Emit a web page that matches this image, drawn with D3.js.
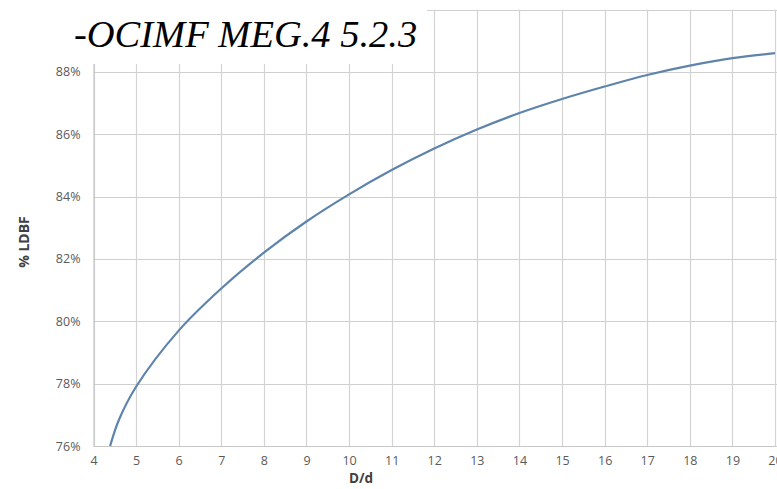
<!DOCTYPE html>
<html>
<head>
<meta charset="utf-8">
<script src="https://cdn.jsdelivr.net/npm/d3@7"></script>
<style>
  body { margin: 0; background: #fff; }
  svg { display: block; }
</style>
</head>
<body>
<div id="chart"></div>
<script>
// ============================================
// DATA
// ============================================

const ratio = [4.39, 4.6, 5, 6, 7, 8, 9, 10, 11, 12, 13, 14, 15, 16, 17, 18, 19, 20];
const ldbf  = [76.0, 76.85, 77.9, 79.7, 81.05, 82.2, 83.2, 84.07, 84.85, 85.54, 86.15, 86.68, 87.13, 87.53, 87.9, 88.2, 88.44, 88.6];
const xTicks = [4, 5, 6, 7, 8, 9, 10, 11, 12, 13, 14, 15, 16, 17, 18, 19, 20];
const yTicks = [76, 78, 80, 82, 84, 86, 88, 90];

const points = ratio.map((r, i) => ({ r: r, v: ldbf[i] }));

// ============================================
// DIMENSIONS & SCALES
// ============================================

const W = 777, H = 489;
const plotLeft = 93.5, plotRight = 775, plotTop = 9.5, plotBottom = 446;

const x = d3.scaleLinear().domain([4, 20]).range([plotLeft, plotRight]);
const y = d3.scaleLinear().domain([76, 90]).range([plotBottom, plotTop]);

const svg = d3.select('#chart').append('svg')
  .attr('width', W)
  .attr('height', H);

// grid
svg.append('g')
  .selectAll('line')
  .data(yTicks)
  .join('line')
  .attr('x1', plotLeft).attr('x2', W)
  .attr('y1', d => Math.round(y(d)) + 0.5)
  .attr('y2', d => Math.round(y(d)) + 0.5)
  .attr('stroke', '#cfcfcf')
  .attr('stroke-width', 1.2);

svg.append('g')
  .selectAll('line')
  .data(xTicks)
  .join('line')
  .attr('x1', d => Math.round(x(d)) + 0.5)
  .attr('x2', d => Math.round(x(d)) + 0.5)
  .attr('y1', plotTop).attr('y2', plotBottom)
  .attr('stroke', '#d3d3d3')
  .attr('stroke-width', 1.2);

// axes (labels only)
const xAxis = svg.append('g')
  .attr('transform', `translate(0,${plotBottom})`)
  .call(d3.axisBottom(x).tickValues(xTicks).tickSize(0).tickPadding(10).tickFormat(d3.format('d')));

const yAxis = svg.append('g')
  .attr('transform', `translate(${plotLeft},0)`)
  .call(d3.axisLeft(y).tickValues(yTicks).tickSize(0).tickPadding(13).tickFormat(d => d + '%'));

[xAxis, yAxis].forEach(g => {
  g.select('.domain').attr('stroke', '#c8c8c8').attr('stroke-width', 1.2);
  g.selectAll('text')
    .attr('fill', '#5a5a5a')
    .style('font-family', '"Open Sans", "DejaVu Sans", sans-serif')
    .style('font-size', '12.5px');
});

// curve
const line = d3.line()
  .x(d => x(d.r))
  .y(d => y(d.v))
  .curve(d3.curveCatmullRom.alpha(0.5));

svg.append('path')
  .datum(points)
  .attr('d', line)
  .attr('fill', 'none')
  .attr('stroke', '#5f84ab')
  .attr('stroke-width', 2.2);

// axis titles
svg.append('text')
  .attr('x', 361).attr('y', 483)
  .attr('text-anchor', 'middle')
  .attr('fill', '#404040')
  .style('font-family', '"Open Sans", "DejaVu Sans", sans-serif')
  .style('font-size', '13.5px')
  .style('font-weight', 'bold')
  .text('D/d');

svg.append('text')
  .attr('transform', 'translate(29,242) rotate(-90)')
  .attr('text-anchor', 'middle')
  .attr('fill', '#404040')
  .style('font-family', '"Open Sans", "DejaVu Sans", sans-serif')
  .style('font-size', '14px')
  .style('font-weight', 'bold')
  .text('% LDBF');

// pasted title box
svg.append('rect')
  .attr('x', 0).attr('y', 0)
  .attr('width', 427).attr('height', 64)
  .attr('fill', '#fff');

svg.append('text')
  .attr('x', 74).attr('y', 47)
  .attr('fill', '#000')
  .style('font-family', '"Liberation Serif", "Times New Roman", serif')
  .style('font-style', 'italic')
  .style('font-size', '38.5px')
  .text('-OCIMF MEG.4 5.2.3');
</script>
</body>
</html>
